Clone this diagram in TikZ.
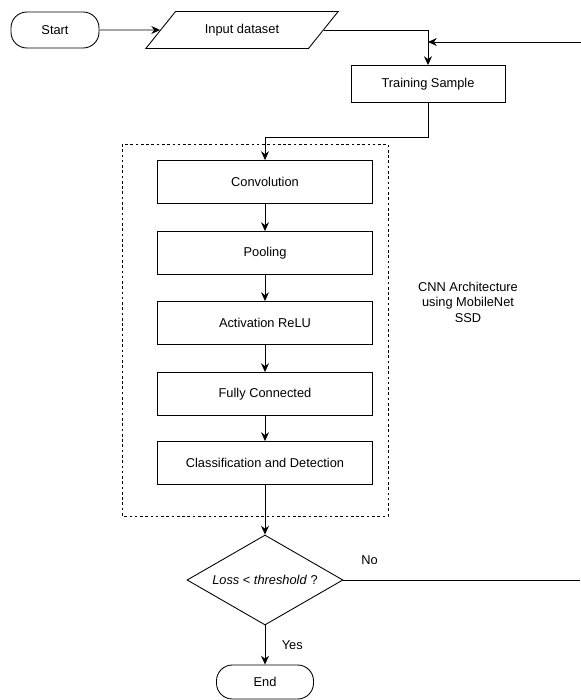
\documentclass[tikz,border=0pt]{standalone}
\usepackage{fontspec}
\setmainfont{Liberation Sans}
\usetikzlibrary{shapes.geometric, arrows.meta}

\tikzset{
  terminal/.style={draw, rounded corners=9pt, minimum width=1.76cm, minimum height=0.72cm},
  io/.style={draw, trapezium, trapezium left angle=51, trapezium right angle=129,
    trapezium stretches=true, minimum width=3.86cm, minimum height=0.74cm},
  process/.style={draw, minimum width=3.08cm, minimum height=0.74cm},
  layer/.style={draw, minimum width=4.3cm, minimum height=0.86cm},
  decision/.style={draw, diamond, aspect=1.73, inner sep=0pt, minimum width=3.12cm, minimum height=1.8cm},
  flow/.style={-{Stealth[length=5pt,width=4.5pt]}}
}

\begin{document}
\begin{tikzpicture}[x=0.02cm, y=-0.02cm, line width=0.5pt,
  font=\fontsize{7.3}{8.8}\selectfont]
  \useasboundingbox (0,0) rectangle (581,700);
  % Input part
  \node[terminal] (start) at (55,30) {Start};
  \node[io] (input) at (242,30) {Input dataset};
  \node[process] (train) at (428,84) {Training Sample};
  % CNN layers
  \node[layer] (conv) at (265,182) {Convolution};
  \node[layer] (pool) at (265,253) {Pooling};
  \node[layer] (relu) at (265,323) {Activation ReLU};
  \node[layer] (fc) at (265,394) {Fully Connected};
  \node[layer] (cls) at (265,463) {Classification and Detection};
  \draw[dash pattern=on 1.5pt off 1.5pt] (122,144) rectangle (388,516);
  \node[align=center] (cnn) at (468,302) {CNN Architecture\\using MobileNet\\SSD};
  % Decision and end
  \node[decision] (loss) at (265,580) {\textit{Loss} < \textit{threshold} ?};
  \node[terminal, minimum width=1.94cm, minimum height=0.68cm] (end) at (265,682) {End};
  \coordinate (noend) at (580,580);
  \coordinate (back) at (581,42);
  % Connectors
  \draw[flow] (start) -- (input);
  \draw[flow] (input) -| (train);
  \draw[flow] (back) -- (train.north |- back);
  \draw[flow] (train.south) -- ++(0,35) -| (conv.north);
  \draw[flow] (conv) -- (pool);
  \draw[flow] (pool) -- (relu);
  \draw[flow] (relu) -- (fc);
  \draw[flow] (fc) -- (cls);
  \draw[flow] (cls) -- (loss);
  \draw (loss.east) -- node[pos=0.11, above=5pt] {No} (noend);
  \draw[flow] (loss) -- node[pos=0.5, right=6pt] {Yes} (end);
\end{tikzpicture}
\end{document}
